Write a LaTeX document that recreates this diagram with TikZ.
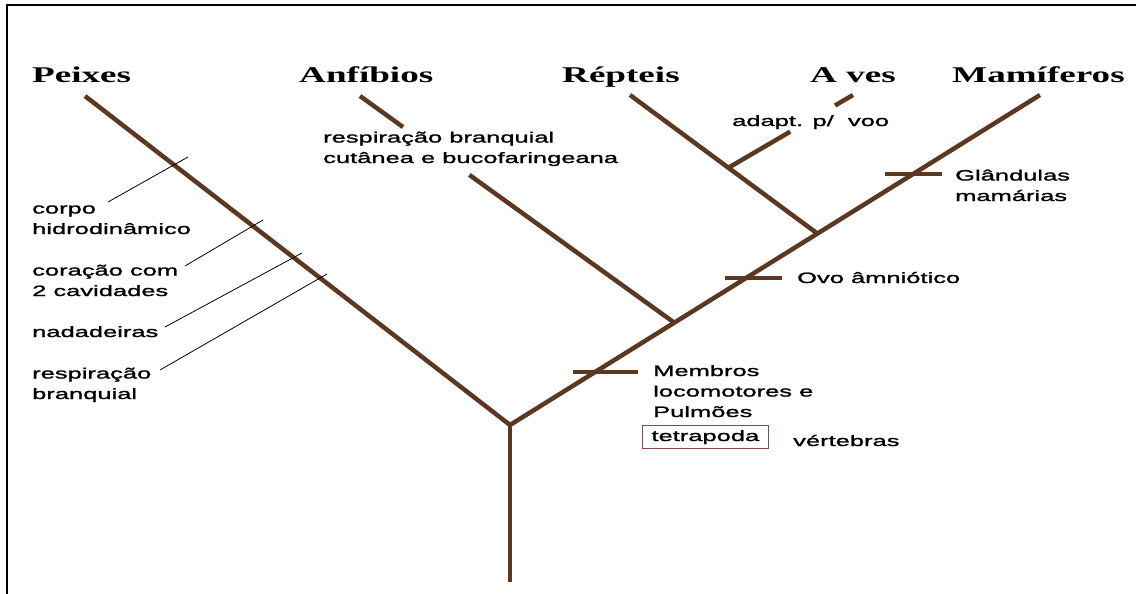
\documentclass[tikz,border=0pt]{standalone}
\usepackage{fontspec}
\usetikzlibrary{calc}
\newfontfamily\cladefont[FakeStretch=1.65]{Liberation Serif}
\newfontfamily\notefont[FakeStretch=1.7,FakeBold=1.5]{Liberation Sans}
\definecolor{branch}{RGB}{92,56,32}
\definecolor{boxred}{RGB}{140,72,72}

\begin{document}
\begin{tikzpicture}[x=1pt, y=-1pt,
                clade/.style={font=\cladefont\bfseries\fontsize{22.5}{26}\selectfont, anchor=base west, inner sep=0pt},
                note/.style={font=\notefont\fontsize{15}{20.5}\selectfont, anchor=base west, align=left, inner sep=0pt},
                limb/.style={draw=branch, line width=4.5pt},
                trait/.style={draw=black, line width=0.8pt}
            ]
            \useasboundingbox (0,0) rectangle (1136,594);
            \draw[line width=2pt] (7,594) -- (7,5) -- (1136,5);

            % Clade names
            \node[clade] (peixes) at (32,82) {Peixes};
            \node[clade] (anfibios) at (299,82) {Anfíbios};
            \node[clade] (repteis) at (562,82) {Répteis};
            \node[clade] (aves) at (810,82) {A ves};
            \node[clade] (mamiferos) at (952,82) {Mamíferos};

            % Tree points
            \coordinate (root) at (510,425);
            \coordinate (base) at (510,582);
            \coordinate (pTip) at (85,96);
            \coordinate (aTip) at (360,96);
            \coordinate (rTip) at (630,95);
            \coordinate (vTip) at (853,95);
            \coordinate (mTip) at (1040,95);
            \coordinate (jAnf) at ($(root)!0.31!(mTip)$);
            \coordinate (jRep) at ($(root)!0.58!(mTip)$);
            \coordinate (jAve) at ($(jRep)!0.475!(rTip)$);
            \coordinate (tMem) at ($(root)!0.16!(mTip)$);
            \coordinate (tOvo) at ($(root)!0.445!(mTip)$);
            \coordinate (tGla) at ($(root)!0.76!(mTip)$);
            \coordinate (aGap1) at ($(aTip)!0.137!(jAnf)$);
            \coordinate (aGap2) at ($(aTip)!0.348!(jAnf)$);
            \coordinate (vGap1) at ($(jAve)!0.496!(vTip)$);
            \coordinate (vGap2) at ($(jAve)!0.856!(vTip)$);

            % Branches
            \draw[limb] (base) -- (root);
            \draw[limb] (root) -- (pTip);
            \draw[limb] (root) -- (mTip);
            \draw[limb] (jAnf) -- (aGap2);
            \draw[limb] (aGap1) -- (aTip);
            \draw[limb] (jRep) -- (rTip);
            \draw[limb] (jAve) -- (vGap1);
            \draw[limb] (vGap2) -- (vTip);

            % Bars on the main line
            \draw[limb] ($(tMem)+(-22,0)$) -- ($(tMem)+(43,0)$);
            \draw[limb] ($(tOvo)+(-21,0)$) -- ($(tOvo)+(36,0)$);
            \draw[limb] ($(tGla)+(-28,0)$) -- ($(tGla)+(29,0)$);

            % Fish traits (base = last line)
            \node[note] (corpo) at (32,234) {corpo\\hidrodinâmico};
            \node[note] (coracao) at (32,296) {coração com\\2 cavidades};
            \node[note] (nadad) at (32,337) {nadadeiras};
            \node[note] (resp) at (32,399) {respiração\\branquial};
            \coordinate (c1) at (188,157);
            \coordinate (c2) at (263,220);
            \coordinate (c3) at (302,253);
            \coordinate (c4) at (327,274);
            \draw[trait] (108,202) -- (c1);
            \draw[trait] (185,266) -- (c2);
            \draw[trait] (165,327) -- (c3);
            \draw[trait] (160,370) -- (c4);

            % Other traits
            \node[note] (anfnote) at (323,163) {respiração branquial\\cutânea e bucofaringeana};
            \node[note] (voo) at (732,126) {adapt. p/\ \ voo};
            \node[note] (glandulas) at (955,201) {Glândulas\\mamárias};
            \node[note] (ovo) at (797,283) {Ovo âmniótico};
            \node[note] (membros) at (653,417) {Membros\\locomotores e\\Pulmões};
            \node[note, draw=boxred, line width=1pt, inner xsep=9pt, inner ysep=4.5pt] (tetra) at (642,441) {tetrapoda};
            \node[note] (vert) at (793,446) {vértebras};
            \end{tikzpicture}
\end{document}
